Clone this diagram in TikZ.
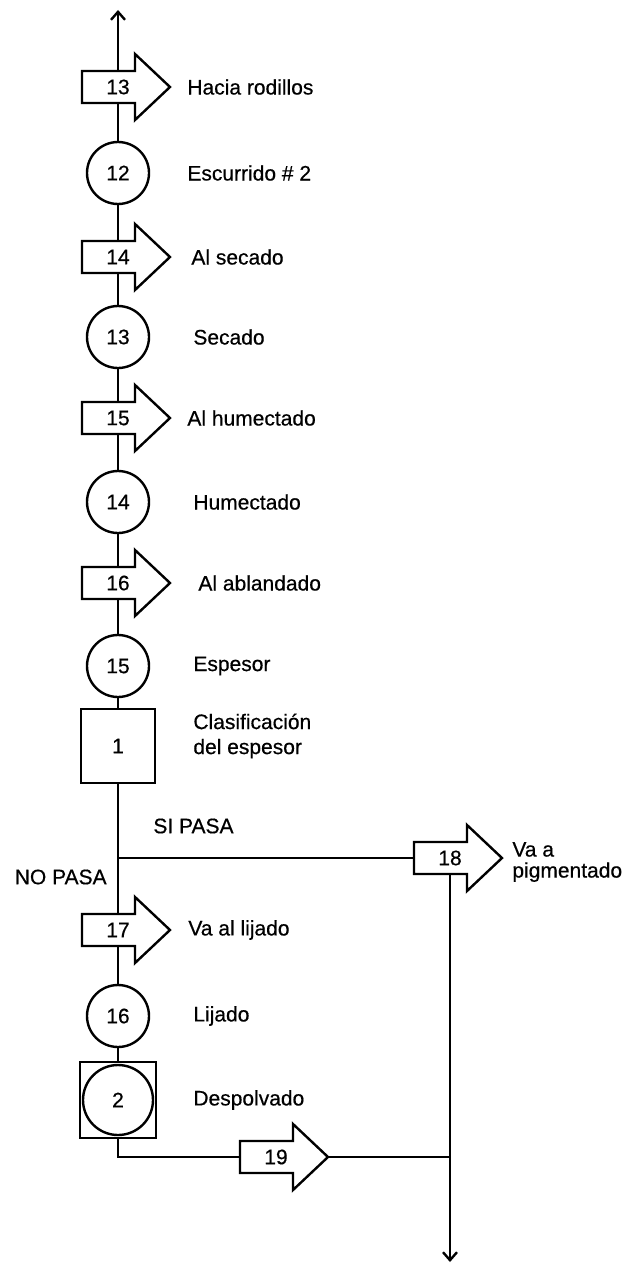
\documentclass[tikz,border=0pt]{standalone}
\usepackage{fontspec}
\setmainfont[FakeBold=0.5]{Liberation Sans}
\usetikzlibrary{arrows.meta, backgrounds}
\newcommand{\flowfont}{\fontsize{10.5}{12.5}\selectfont}
\tikzset{
	oper/.style={circle, draw, fill=white, line width=1.2pt, minimum size=31pt, inner sep=0pt, font=\flowfont},
	inspect/.style={rectangle, draw, fill=white, line width=1.2pt, minimum size=37pt, inner sep=0pt, font=\flowfont},
	note/.style={anchor=west, inner sep=0pt, align=left, font=\flowfont},
	num/.style={inner sep=1pt, font=\flowfont},
	line/.style={line width=1.2pt},
	outflow/.style={line, -{Straight Barb[length=4pt, width=7pt]}},
	transp/.pic={
		\draw[line, fill=white, line join=miter] (-36,-16) -- (17,-16) -- (17,-33) -- (52,0) -- (17,33) -- (17,16) -- (-36,16) -- cycle;
		\node[num] (-n) at (0,0) {#1};
	},
}
\begin{document}
\begin{tikzpicture}[x=0.5pt, y=-0.5pt]
	\useasboundingbox (0,0) rectangle (633,1268);
	\coordinate (top) at (118,10);
	\pic (torodillos) at (118,87) {transp=13};
	\node[oper] (escurrido) at (118,173) {12};
	\pic (tosecado) at (118,257) {transp=14};
	\node[oper] (secado) at (118,337) {13};
	\pic (tohumect) at (118,418) {transp=15};
	\node[oper] (humect) at (118,502) {14};
	\pic (toablandado) at (118,583) {transp=16};
	\node[oper] (espesor) at (118,666) {15};
	\node[inspect] (clasif) at (118,746) {1};
	\coordinate (split) at (118,858);
	\pic (topigment) at (450,858) {transp=18};
	\pic (tolijado) at (118,930) {transp=17};
	\node[oper] (lijado) at (118,1016) {16};
	\node[inspect, minimum size=38pt] (despolvbox) at (118,1100) {};
	\node[oper, minimum size=35pt] (despolvado) at (despolvbox) {2};
	\coordinate (bend) at (118,1157);
	\pic (toreturn) at (276,1157) {transp=19};
	\coordinate (merge) at (450,1157);
	\coordinate (bottom) at (450,1262);

	\node[note] (torodillostxt) at (187,87) {Hacia rodillos};
	\node[note] (escurridotxt) at (187,173) {Escurrido \# 2};
	\node[note] (tosecadotxt) at (191,257) {Al secado};
	\node[note] (secadotxt) at (193,337) {Secado};
	\node[note] (tohumecttxt) at (187,418) {Al humectado};
	\node[note] (humecttxt) at (193,502) {Humectado};
	\node[note] (toablandadotxt) at (198,583) {Al ablandado};
	\node[note] (espesortxt) at (193,666) {Espesor};
	\node[note] (clasiftxt) at (193,736) {Clasificación\\del espesor};
	\node[note] (sipasa) at (153,826) {SI PASA};
	\node[note, anchor=east] (nopasa) at (107,877) {NO PASA};
	\node[note] (topigmenttxt) at (512,862) {Va a\\[-2pt]pigmentado};
	\node[note] (tolijadotxt) at (188,930) {Va al lijado};
	\node[note] (lijadotxt) at (193,1016) {Lijado};
	\node[note] (despolvadotxt) at (193,1100) {Despolvado};

	\begin{scope}[on background layer]
		\draw[outflow] (split) -- (clasif) -- (espesor) -- (toablandado-n) -- (humect) -- (tohumect-n) -- (secado) -- (tosecado-n) -- (escurrido) -- (torodillos-n) -- (top);
		\draw[line] (split) -- (topigment-n);
		\draw[line] (split) -- (tolijado-n) -- (lijado) -- (despolvbox) -- (bend) -- (toreturn-n) -- (merge);
		\draw[outflow] (topigment-n) -- (bottom);
	\end{scope}
\end{tikzpicture}
\end{document}
